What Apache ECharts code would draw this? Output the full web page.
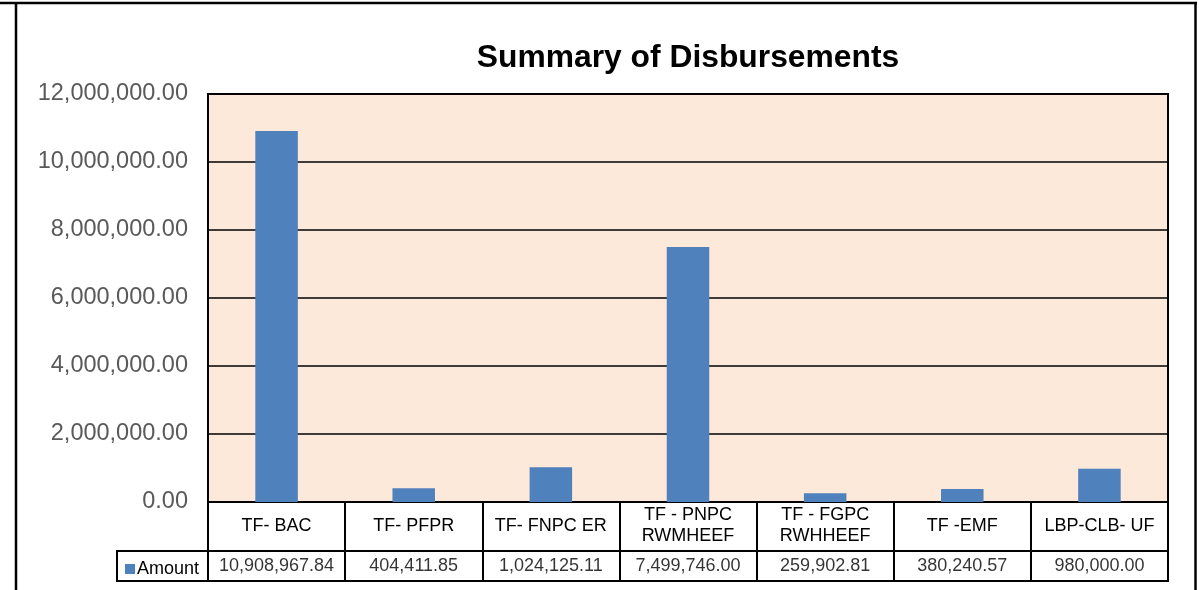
<!DOCTYPE html>
<html><head><meta charset="utf-8">
<script src="https://cdn.jsdelivr.net/npm/echarts@6/dist/echarts.min.js"></script>
<style>html,body{margin:0;padding:0;background:#fff}#c{width:1199px;height:590px}</style>
</head><body><div id="c"></div>
<script>
const categories = ['TF- BAC','TF- PFPR','TF- FNPC ER','TF - PNPC\nRWMHEEF','TF - FGPC\nRWHHEEF','TF -EMF','LBP-CLB- UF'];
const amounts = [10908967.84, 404411.85, 1024125.11, 7499746.00, 259902.81, 380240.57, 980000.00];
const seriesName = 'Amount';
const titleText = 'Summary of Disbursements';
const yMin = 0, yMax = 12000000, yStep = 2000000;

const fmt = v => v.toLocaleString('en-US',{minimumFractionDigits:2, maximumFractionDigits:2});
const FONT = '"Liberation Sans", Arial, sans-serif';
const chart = echarts.init(document.getElementById('c'));
chart.setOption({
  animation:false,
  backgroundColor:'#fff',
  title:{text:titleText, left:683, textAlign:'center', top:37,
    textStyle:{fontFamily:FONT, fontSize:31.8, fontWeight:'bold', color:'#000'}},
  legend:{show:true, left:120, top:555, itemWidth:10, itemHeight:10, itemGap:0,
    icon:'rect', textStyle:{fontFamily:FONT, fontSize:18, color:'#000', padding:[0,0,0,-3]},
    data:[seriesName], selectedMode:false},
  grid:[
    {left:208, right:31, top:94, bottom:88, show:true, backgroundColor:'#FDE9D9', borderColor:'#000', borderWidth:2},
    {left:208, right:31, top:551, bottom:9, show:true, borderColor:'#000', borderWidth:2}
  ],
  xAxis:[
    {type:'category', gridIndex:0, data:categories,
      axisLine:{show:true, lineStyle:{color:'#000', width:2}},
      axisTick:{show:true, length:79, lineStyle:{color:'#000', width:2}},
      axisLabel:{show:true, interval:0, margin:24, verticalAlign:'middle', lineHeight:21,
        fontFamily:FONT, fontSize:18, color:'#000'}},
    {type:'category', gridIndex:1, data:categories, show:false}
  ],
  yAxis:[
    {type:'value', gridIndex:0, min:yMin, max:yMax, interval:yStep,
      axisLine:{show:false}, axisTick:{show:false},
      splitLine:{show:true, lineStyle:{color:'#000', width:1.5}},
      axisLabel:{formatter:v=>fmt(v), margin:20, padding:[4,0,0,0], fontFamily:FONT, fontSize:23.5, color:'#595959'}},
    {type:'value', gridIndex:1, min:0, max:1, show:false}
  ],
  series:[
    {name:seriesName, type:'bar', xAxisIndex:0, yAxisIndex:0, data:amounts,
      barWidth:'31%', itemStyle:{color:'#4F81BD'}},
    {type:'scatter', xAxisIndex:1, yAxisIndex:1, symbolSize:0, silent:true,
      data:amounts.map((v,i)=>[categories[i],0.5,v]),
      label:{show:true, position:'inside', formatter:p=>fmt(p.value[2]),
        fontFamily:FONT, fontSize:18, color:'#000'}}
  ],
  graphic:[
    {type:'line', shape:{x1:0,y1:3,x2:1197,y2:3}, style:{stroke:'#000', lineWidth:2.5}},
    {type:'line', shape:{x1:16,y1:3,x2:16,y2:590}, style:{stroke:'#000', lineWidth:2.5}},
    {type:'line', shape:{x1:1195.5,y1:3,x2:1195.5,y2:590}, style:{stroke:'#000', lineWidth:2.5}},
    {type:'rect', shape:{x:117,y:551,width:91,height:30}, style:{fill:'none', stroke:'#000', lineWidth:2}}
  ]
});
</script></body></html>
